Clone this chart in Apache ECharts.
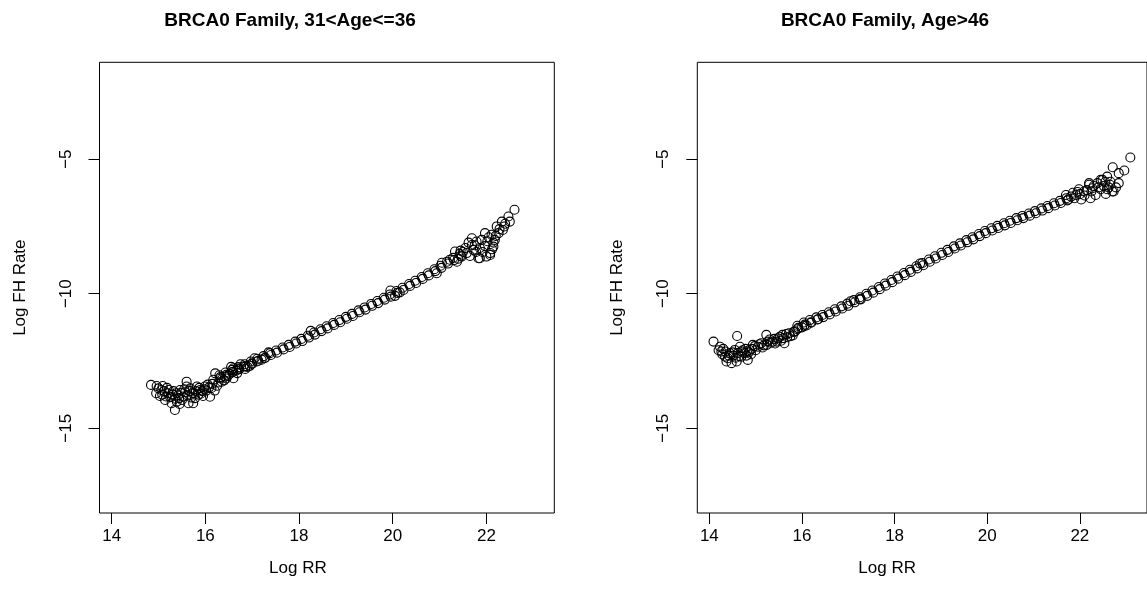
<!DOCTYPE html>
<html>
<head>
<meta charset="utf-8">
<script src="https://cdn.jsdelivr.net/npm/echarts@6/dist/echarts.min.js"></script>
<style>
html,body{margin:0;padding:0;background:#fff;}
#c{width:1147px;height:609px;}
</style>
</head>
<body>
<div id="c"></div>
<script>
// ---- data ----
var titles = ["BRCA0 Family, 31<Age<=36", "BRCA0 Family, Age>46"];
var xName = "Log RR";
var yName = "Log FH Rate";
var xTicks = [14, 16, 18, 20, 22];
var yTicks = [-15, -10, -5];
var xRange = [13.74, 23.45];
var yRange = [-18.15, -1.4];

// left panel: 31<Age<=36 ([Log RR, Log FH Rate])
var leftLow = [
  [14.84,-13.39],[14.96,-13.43],[15.09,-13.43],[14.95,-13.70],[15.03,-13.80],[15.14,-13.95],
  [15.21,-13.70],[15.28,-14.07],[15.35,-14.32],[15.39,-14.01],[15.46,-13.58],[15.53,-13.82],
  [15.60,-13.45],[15.60,-13.27],[15.64,-14.07],[15.74,-14.07],[15.76,-13.70],[15.89,-13.58],
  [15.99,-13.45],[16.10,-13.83],[16.17,-13.20],[16.28,-13.30],[16.21,-12.96],[16.35,-13.27],
  [16.60,-12.77],[16.60,-13.14],[16.42,-13.08],[16.52,-12.98],[16.66,-12.85],
  [15.25,-13.85],[15.32,-13.62],[15.42,-13.78],[15.50,-13.95],[15.57,-13.66],[15.68,-13.52],
  [15.70,-13.86],[15.82,-13.45],[15.85,-13.75],[15.93,-13.62],[16.02,-13.60],[16.05,-13.38],
  [16.13,-13.50],[16.20,-13.60],[15.12,-13.62],[15.18,-13.50],[15.06,-13.58],[15.28,-13.84],
  [15.45,-14.10],[15.36,-13.90],[15.78,-13.88],[15.95,-13.80],
  [16.55,-12.72],[16.75,-12.62],[16.85,-12.80],[16.95,-12.68],[17.05,-12.40],[17.20,-12.45],
  [17.35,-12.18],[16.45,-13.15],
  [15.00,-13.52],[15.08,-13.75],[15.16,-13.82],[15.22,-13.58],[15.30,-13.75],[15.38,-13.70],
  [15.44,-13.88],[15.48,-13.68],[15.55,-13.55],[15.62,-13.78],[15.66,-13.62],[15.72,-13.70],
  [15.80,-13.62],[15.87,-13.50],[15.90,-13.72],[15.98,-13.55],[16.08,-13.48],[16.15,-13.35],
  [16.25,-13.42],[16.32,-13.15],[16.40,-13.22],[16.48,-13.05],[16.58,-12.92],[16.68,-12.95],
  [16.72,-12.78],[16.82,-12.70],[16.90,-12.72],[17.00,-12.60],[17.10,-12.52],[17.28,-12.38]
];
var leftMid = [
  [16.30,-13.03],[16.43,-12.93],[16.57,-12.83],[16.70,-12.73],[16.84,-12.62],[16.97,-12.52],
  [17.11,-12.42],[17.24,-12.32],[17.38,-12.21],[17.51,-12.11],[17.65,-12.00],[17.78,-11.90],
  [17.92,-11.78],[18.05,-11.68],[18.19,-11.56],[18.32,-11.44],[18.46,-11.32],[18.59,-11.21],
  [18.73,-11.09],[18.86,-10.98],[19.00,-10.86],[19.13,-10.75],[19.27,-10.62],[19.40,-10.51],
  [19.54,-10.38],[19.67,-10.27],[19.81,-10.15],[19.94,-10.03],[20.08,-9.90],[20.21,-9.78],
  [20.35,-9.64],[20.48,-9.52],[20.62,-9.38],[20.75,-9.24],[20.89,-9.09],[21.02,-8.96],
  [21.16,-8.81],[21.29,-8.67],[21.43,-8.52],
  [16.32,-13.10],[16.45,-13.01],[16.59,-12.90],[16.72,-12.81],[16.86,-12.70],[16.99,-12.60],
  [17.13,-12.49],[17.26,-12.40],[17.40,-12.28],[17.53,-12.19],[17.67,-12.07],[17.80,-11.98],
  [17.94,-11.85],[18.07,-11.76],[18.21,-11.63],[18.34,-11.52],[18.48,-11.39],[18.61,-11.29],
  [18.75,-11.16],[18.88,-11.06],[19.02,-10.93],[19.15,-10.83],[19.29,-10.69],[19.42,-10.59],
  [19.56,-10.45],[19.69,-10.35],[19.83,-10.22],[19.96,-10.11],[20.10,-9.97],[20.23,-9.86],
  [20.37,-9.71],[20.50,-9.60],[20.64,-9.45],[20.77,-9.32],[20.91,-9.16],[21.04,-9.04],
  [21.18,-8.88],[21.31,-8.75],[21.45,-8.59],
  [19.95,-9.88],[20.05,-10.08],[20.15,-9.95],[20.94,-9.24],[21.05,-8.85],[18.25,-11.38]
];
var leftHigh = [
  [22.60,-6.88],[22.47,-7.13],[22.50,-7.32],[22.33,-7.32],[22.35,-7.63],[22.26,-7.75],[22.18,-8.00],
  [22.11,-7.81],[21.97,-7.75],[22.08,-8.49],[21.86,-8.68],[21.69,-7.94],[21.79,-8.06],[21.86,-8.30],
  [21.97,-8.23],[21.72,-8.37],[21.58,-8.49],[21.47,-8.62],[21.33,-8.43],[21.22,-8.74],[21.37,-8.81],
  [21.69,-8.19],[22.22,-7.50],[22.38,-7.50],[21.83,-8.68],[22.08,-8.56],
  [21.55,-8.30],[21.62,-8.10],[21.90,-8.00],[22.02,-8.05],[22.15,-8.25],[21.50,-8.45],[22.05,-7.90],
  [21.78,-8.45],[22.12,-8.35],
  [21.40,-8.70],[21.45,-8.40],[21.65,-8.60],[21.75,-8.20],[21.92,-8.45],[22.00,-8.62],[22.15,-8.10],
  [22.20,-7.85],[22.28,-7.60],[22.40,-7.40]
];

// right panel: Age>46
var rightLow = [
  [14.09,-11.78],[14.23,-11.97],[14.26,-12.15],[14.34,-12.34],[14.37,-12.52],[14.48,-12.58],
  [14.59,-12.52],[14.60,-11.57],[14.44,-12.21],[14.55,-12.09],[14.66,-11.97],[14.69,-12.34],
  [14.76,-12.21],[14.83,-12.46],[14.87,-12.09],[14.94,-11.90],[15.05,-11.97],[15.12,-11.84],
  [15.23,-11.53],[15.24,-11.90],[15.37,-11.78],[15.48,-11.66],[15.58,-11.53],[15.62,-11.84],
  [15.72,-11.47],[14.30,-12.05],[14.40,-12.40],[14.52,-12.30],[14.62,-12.20],[14.72,-12.10],
  [14.80,-12.30],[14.90,-12.25],[15.00,-12.10],[15.15,-12.00],[15.30,-11.70],[15.42,-11.85],
  [15.55,-11.75],[15.68,-11.62],[15.80,-11.55],[15.85,-11.40],
  [14.20,-12.10],[14.28,-12.25],[14.35,-12.15],[14.42,-12.30],[14.50,-12.18],[14.57,-12.38],
  [14.64,-12.32],[14.70,-12.15],[14.78,-12.05],[14.85,-12.18],[14.92,-12.05],[14.98,-11.95],
  [15.08,-11.88],[15.18,-11.92],[15.26,-11.78],[15.33,-11.82],[15.40,-11.68],[15.46,-11.78],
  [15.52,-11.60],[15.60,-11.65],[15.66,-11.50],[15.75,-11.58],[15.82,-11.42],[15.90,-11.32],
  [16.00,-11.25],[16.10,-11.18],[16.20,-11.08]
];
var rightMid = [
  [15.90,-11.19],[16.04,-11.07],[16.17,-10.98],[16.31,-10.88],[16.44,-10.79],[16.58,-10.69],
  [16.71,-10.58],[16.85,-10.47],[16.98,-10.37],[17.12,-10.24],[17.25,-10.13],[17.39,-10.00],
  [17.52,-9.88],[17.66,-9.75],[17.79,-9.62],[17.93,-9.49],[18.06,-9.36],[18.20,-9.23],
  [18.33,-9.11],[18.47,-8.98],[18.60,-8.86],[18.74,-8.73],[18.87,-8.61],[19.01,-8.48],
  [19.14,-8.37],[19.28,-8.24],[19.41,-8.13],[19.55,-8.01],[19.68,-7.90],[19.82,-7.78],
  [19.95,-7.67],[20.09,-7.57],[20.22,-7.48],[20.36,-7.38],[20.49,-7.29],[20.63,-7.19],
  [20.76,-7.11],[20.90,-7.02],[21.03,-6.93],[21.17,-6.83],[21.30,-6.74],[21.44,-6.64],
  [21.57,-6.55],[21.71,-6.45],
  [15.92,-11.27],[16.06,-11.15],[16.19,-11.06],[16.33,-10.96],[16.46,-10.87],[16.60,-10.77],
  [16.73,-10.66],[16.87,-10.55],[17.00,-10.45],[17.14,-10.32],[17.27,-10.21],[17.41,-10.08],
  [17.54,-9.96],[17.68,-9.83],[17.81,-9.70],[17.95,-9.57],[18.08,-9.44],[18.22,-9.31],
  [18.35,-9.19],[18.49,-9.06],[18.62,-8.94],[18.76,-8.81],[18.89,-8.69],[19.03,-8.56],
  [19.16,-8.45],[19.30,-8.32],[19.43,-8.21],[19.57,-8.09],[19.70,-7.98],[19.84,-7.86],
  [19.97,-7.75],[20.11,-7.65],[20.24,-7.56],[20.38,-7.46],[20.51,-7.37],[20.65,-7.27],
  [20.78,-7.19],[20.92,-7.10],[21.05,-7.01],[21.19,-6.91],[21.32,-6.82],[21.46,-6.72],
  [21.59,-6.63],[21.73,-6.53],
  [16.05,-11.20],[16.35,-10.95],[17.05,-10.28],[17.25,-10.20],[18.55,-8.88]
];
var rightHigh = [
  [23.09,-4.94],[22.71,-5.30],[22.84,-5.52],[22.96,-5.42],[22.84,-5.89],[22.59,-5.65],[22.66,-5.84],
  [22.49,-5.77],[22.73,-6.20],[22.59,-6.12],[22.38,-5.89],[22.27,-6.08],[22.20,-5.89],[22.09,-6.20],
  [21.98,-6.12],[21.92,-6.33],[21.81,-6.39],[21.70,-6.33],[22.45,-6.12],[22.34,-6.33],[22.23,-6.45],
  [22.70,-6.20],[22.56,-6.29],[22.03,-6.50],[22.45,-5.77],[22.20,-5.95],[21.85,-6.25],[22.00,-6.30],
  [22.15,-6.15],[22.30,-6.00],[22.52,-6.00],[22.65,-5.95],
  [21.75,-6.50],[21.88,-6.45],[21.95,-6.22],[22.10,-6.35],[22.25,-6.20],[22.40,-6.05],[22.55,-5.85],
  [22.62,-6.05],[22.78,-6.05]
];

// ---- chart ----
var FONT = "'Liberation Sans', Arial, Helvetica, sans-serif";
var minus = function (v) { return String(v).replace('-', '\u2212'); };
var chart = echarts.init(document.getElementById('c'), null, {renderer: 'canvas'});

function xAxisCfg(idx, pad) {
  return {
    type: 'value', gridIndex: idx, min: xRange[0], max: xRange[1],
    name: xName, nameLocation: 'middle', nameGap: 47,
    nameTextStyle: {color: '#000', fontSize: 17, fontFamily: FONT, padding: pad},
    axisLine: {show: false},
    axisTick: {show: true, inside: false, length: 11, lineStyle: {color: '#000', width: 1}, customValues: xTicks},
    axisLabel: {color: '#000', fontSize: 17, fontFamily: FONT, margin: 15, customValues: xTicks},
    splitLine: {show: false}
  };
}
function yAxisCfg(idx) {
  return {
    type: 'value', gridIndex: idx, min: yRange[0], max: yRange[1],
    name: yName, nameLocation: 'middle', nameGap: 71,
    nameTextStyle: {color: '#000', fontSize: 17, fontFamily: FONT},
    axisLine: {show: false},
    axisTick: {show: true, inside: false, length: 11, lineStyle: {color: '#000', width: 1}, customValues: yTicks},
    axisLabel: {color: '#000', fontSize: 17, fontFamily: FONT, margin: 25, rotate: 90, formatter: minus, customValues: yTicks},
    splitLine: {show: false}
  };
}
function sc(idx, data) {
  return {
    type: 'scatter', xAxisIndex: idx, yAxisIndex: idx, data: data,
    symbol: 'circle', symbolSize: 9,
    itemStyle: {color: 'rgba(0,0,0,0)', borderColor: '#000', borderWidth: 1.1, opacity: 1},
    emphasis: {disabled: true}, silent: true
  };
}

chart.setOption({
  animation: false,
  backgroundColor: '#fff',
  title: [
    {text: titles[0], left: 285, top: 6, textAlign: 'center',
     textStyle: {fontSize: 19, fontWeight: 'bold', color: '#000', fontFamily: FONT}},
    {text: titles[1], left: 880, top: 6, textAlign: 'center',
     textStyle: {fontSize: 19, fontWeight: 'bold', color: '#000', fontFamily: FONT}}
  ],
  grid: [
    {left: 99.5, top: 62.3, width: 454.8, height: 450.7, show: true, borderColor: '#000', borderWidth: 1, backgroundColor: 'transparent'},
    {left: 697.3, top: 62.3, width: 454.8, height: 450.7, show: true, borderColor: '#000', borderWidth: 1, backgroundColor: 'transparent'}
  ],
  xAxis: [xAxisCfg(0, [0, 58, 0, 0]), xAxisCfg(1, [0, 70, 0, 0])],
  yAxis: [yAxisCfg(0), yAxisCfg(1)],
  series: [
    sc(0, leftLow.concat(leftMid, leftHigh)),
    sc(1, rightLow.concat(rightMid, rightHigh))
  ]
});
</script>
</body>
</html>
